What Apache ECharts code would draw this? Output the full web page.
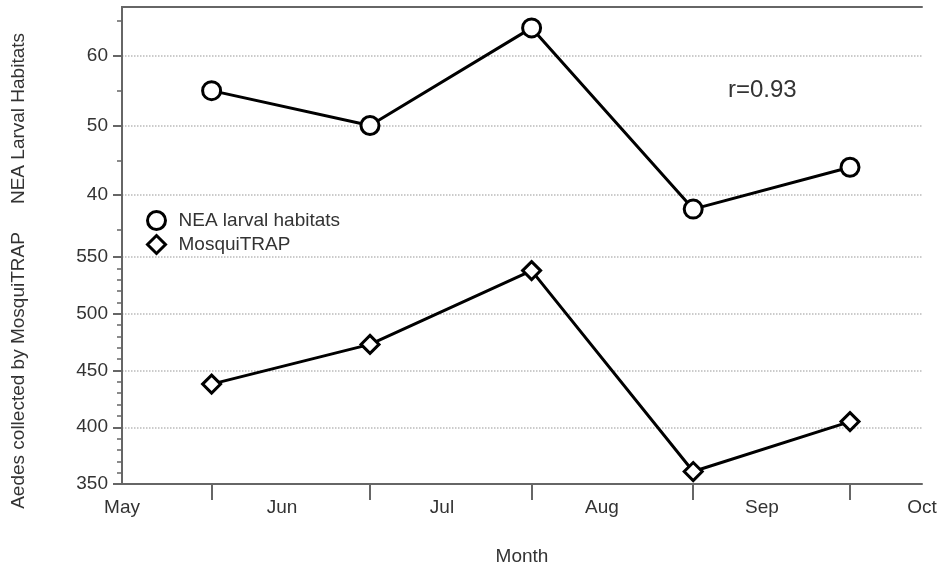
<!DOCTYPE html>
<html>
<head>
<meta charset="utf-8">
<script src="https://cdn.jsdelivr.net/npm/echarts@6/dist/echarts.min.js"></script>
<style>
html, body { margin: 0; padding: 0; background: #fff; }
#chart { width: 944px; height: 569px; }
</style>
</head>
<body>
<div id="chart"></div>
<script>
// month labels sit on integer positions, samples fall mid-month
var months = ['May', 'Jun', 'Jul', 'Aug', 'Sep', 'Oct'];
var monthTicks = [0, 1, 2, 3, 4, 5];
var samplePos = [0.56, 1.55, 2.56, 3.57, 4.55];
var neaHabitats = [55, 50, 64, 38, 44];
var mosquiTrap = [438, 473, 538, 361, 405];
var neaMajor = [40, 50, 60];
var neaMinor = [35, 45, 55, 65];

function pairs(xs, ys) {
	return xs.map(function (x, i) { return [x, ys[i]]; });
}

var axisColor = '#666';
var textColor = '#333';
var font = 'Liberation Sans, Arial, Helvetica, sans-serif';
var fs = 19;

var chart = echarts.init(document.getElementById('chart'));

chart.setOption({
	animation: false,
	textStyle: { fontFamily: font },
	grid: [
		{ left: 122, right: 22, top: 7, height: 223 },
		{ left: 122, right: 22, top: 257, height: 227 },
		{ left: 122, right: 22, top: 7, bottom: 85 }
	],
	legend: {
		orient: 'vertical',
		left: 146,
		top: 210,
		padding: 0,
		itemWidth: 18,
		itemHeight: 18,
		itemGap: 3,
		textStyle: { fontSize: fs, color: textColor, fontFamily: font, padding: [0, 0, 0, 8] },
		itemStyle: { color: '#fff', borderColor: '#000', borderWidth: 3 },
		data: [
			{ name: 'NEA larval habitats', icon: 'circle' },
			{ name: 'MosquiTRAP', icon: 'diamond' }
		]
	},
	graphic: [{
		type: 'text',
		left: 728,
		top: 78,
		style: { text: 'r=0.93', fill: textColor, font: '24px ' + font }
	}],
	xAxis: [
		{
			gridIndex: 0, type: 'value', position: 'top', min: 0, max: 5,
			axisLine: { show: true, lineStyle: { color: axisColor, width: 2 } },
			axisTick: { show: false },
			axisLabel: { show: false },
			splitLine: { show: false }
		},
		{
			gridIndex: 1, type: 'value', position: 'bottom', min: 0, max: 5,
			axisLine: { show: true, lineStyle: { color: axisColor, width: 2 } },
			axisTick: { show: true, customValues: samplePos, length: 16, lineStyle: { color: axisColor, width: 2 } },
			axisLabel: {
				customValues: monthTicks, margin: 14, fontSize: fs, color: textColor,
				formatter: function (v) { return months[Math.round(v)]; }
			},
			splitLine: { show: false },
			name: 'Month', nameLocation: 'middle', nameGap: 63,
			nameTextStyle: { fontSize: fs, color: textColor }
		},
		{ gridIndex: 2, type: 'value', show: false, min: 0, max: 1 }
	],
	yAxis: [
		{
			gridIndex: 0, type: 'value', position: 'left', min: 35, max: 67,
			axisLine: { show: true, lineStyle: { color: axisColor, width: 2 } },
			axisTick: { show: true, customValues: neaMajor, length: 9, lineStyle: { color: axisColor, width: 2 } },
			axisLabel: { customValues: neaMajor, fontSize: fs, color: textColor, margin: 14 },
			splitLine: { show: true, lineStyle: { color: '#bbb', type: 'dotted', width: 1.5 } },
			name: 'NEA Larval Habitats', nameLocation: 'middle', nameGap: 94,
			nameTextStyle: { fontSize: fs, color: textColor }
		},
		{
			gridIndex: 0, type: 'value', position: 'left', min: 35, max: 67,
			axisLine: { show: false },
			axisTick: { show: true, customValues: neaMinor, length: 5, lineStyle: { color: axisColor, width: 1.5 } },
			axisLabel: { show: false },
			splitLine: { show: false }
		},
		{
			gridIndex: 1, type: 'value', position: 'left', min: 350, max: 550, interval: 50,
			axisLine: { show: true, lineStyle: { color: axisColor, width: 2 } },
			axisTick: { show: true, length: 9, lineStyle: { color: axisColor, width: 2 } },
			minorTick: { show: true, splitNumber: 5, length: 5, lineStyle: { color: axisColor, width: 1.5 } },
			axisLabel: { fontSize: fs, color: textColor, margin: 14 },
			splitLine: { show: true, lineStyle: { color: '#bbb', type: 'dotted', width: 1.5 } },
			name: 'Aedes collected by MosquiTRAP', nameLocation: 'middle', nameGap: 94,
			nameTextStyle: { fontSize: fs, color: textColor }
		},
		{
			gridIndex: 2, type: 'value', position: 'right', min: 0, max: 1,
			axisLine: { show: true, lineStyle: { color: axisColor, width: 2 } },
			axisTick: { show: false },
			axisLabel: { show: false },
			splitLine: { show: false }
		}
	],
	series: [
		{
			name: 'NEA larval habitats',
			type: 'line',
			xAxisIndex: 0,
			yAxisIndex: 0,
			data: pairs(samplePos, neaHabitats),
			symbol: 'circle',
			symbolSize: 18,
			lineStyle: { color: '#000', width: 3 },
			itemStyle: { color: '#fff', borderColor: '#000', borderWidth: 3 },
			z: 3
		},
		{
			name: 'MosquiTRAP',
			type: 'line',
			xAxisIndex: 1,
			yAxisIndex: 2,
			data: pairs(samplePos, mosquiTrap),
			symbol: 'diamond',
			symbolSize: 18,
			lineStyle: { color: '#000', width: 3 },
			itemStyle: { color: '#fff', borderColor: '#000', borderWidth: 3 },
			z: 3
		}
	]
});
</script>
</body>
</html>
